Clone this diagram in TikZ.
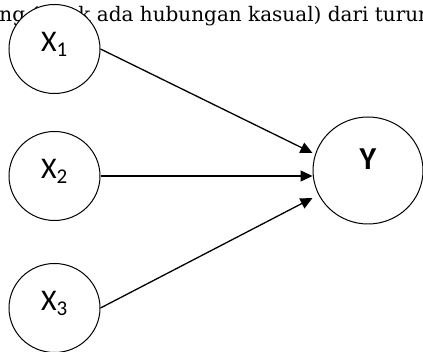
\documentclass[tikz,border=0pt]{standalone}
\usepackage{fontspec}
\setmainfont{DejaVu Serif}
\newfontfamily\labelfont{Carlito}
\usetikzlibrary{shapes.geometric}
\usetikzlibrary{arrows.meta}
\pgfdeclarelayer{textlayer}
\pgfdeclarelayer{edgelayer}
\pgfdeclarelayer{nodelayer}
\pgfsetlayers{textlayer,edgelayer,nodelayer,main}
\tikzstyle{var}=[ellipse,fill=white,draw=black,line width=1pt,inner sep=0pt,minimum width=91pt,minimum height=89pt,font=\labelfont\fontsize{30}{34}\selectfont,text depth=15pt]
\tikzstyle{outcome}=[var,minimum width=110pt,minimum height=107pt,font=\labelfont\bfseries\fontsize{32}{36}\selectfont,text depth=23pt]
\tikzstyle{link}=[-{Triangle[length=12pt,width=11pt]},line width=1.3pt,draw=black]

\begin{document}
\begin{tikzpicture}[x=1pt,y=-1pt]
	\useasboundingbox (0,0) rectangle (423,352);
	\begin{pgfonlayer}{textlayer}
		\node [anchor=base west,inner sep=0pt,font=\fontsize{20}{24}\selectfont] (caption) at (-24,22) {yang (tidak ada hubungan kasual) dari turunan};
	\end{pgfonlayer}
	\begin{pgfonlayer}{nodelayer}
		\node [style=var] (x1) at (54.5, 49) {X\textsubscript{1}};
		\node [style=var] (x2) at (54.5, 176) {X\textsubscript{2}};
		\node [style=var] (x3) at (54.5, 308) {X\textsubscript{3}};
		\node [style=outcome] (y) at (368, 170.5) {Y};
	\end{pgfonlayer}
	\begin{pgfonlayer}{edgelayer}
		\draw [style=link] (x1.east) -- ([yshift=23pt]x2.east -| y.west);
		\draw [style=link] (x2.east) -- (x2.east -| y.west);
		\draw [style=link] (x3.east) -- ([yshift=-22pt]x2.east -| y.west);
	\end{pgfonlayer}
\end{tikzpicture}
\end{document}
